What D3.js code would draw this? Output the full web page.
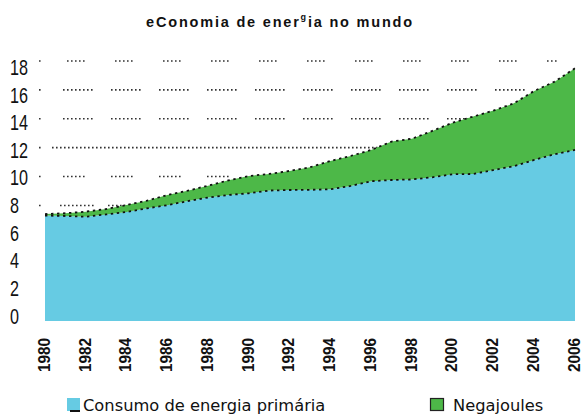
<!DOCTYPE html>
<html>
<head>
<meta charset="utf-8">
<script src="https://cdn.jsdelivr.net/npm/d3@7/dist/d3.min.js"></script>
<style>
  html, body { margin: 0; padding: 0; background: #fff; }
  svg { display: block; }
</style>
</head>
<body>
<svg id="chart" width="581" height="416"></svg>
<script>
// ── DATA ─────────────────────────────────────────────────────────────
const years = [1980,1981,1982,1983,1984,1985,1986,1987,1988,1989,1990,1991,1992,1993,
               1994,1995,1996,1997,1998,1999,2000,2001,2002,2003,2004,2005,2006];
const consumo = [7.30,7.27,7.22,7.38,7.55,7.80,8.02,8.30,8.55,8.72,8.84,9.03,9.07,9.08,
                 9.12,9.35,9.68,9.76,9.80,9.95,10.16,10.18,10.45,10.72,11.15,11.55,11.84];
const negajoules = [0.10,0.19,0.35,0.37,0.48,0.53,0.70,0.72,0.82,1.02,1.20,1.15,1.32,1.56,
                    1.96,2.08,2.16,2.66,2.82,3.21,3.57,3.97,4.12,4.35,4.78,5.02,5.66];
const xTicks = [1980,1982,1984,1986,1988,1990,1992,1994,1996,1998,2000,2002,2004,2006];
const yTicks = [0,2,4,6,8,10,12,14,16,18];
const gridTicks = [8,10,12,14,16,18];
const seriesNames = ['Consumo de energia primária', 'Negajoules'];

// grid line look: dots per group, offset of first group from line start
const gridDots  = { 8: 9, 10: 6, 12: 12, 14: 8, 16: 8, 18: 5 };
const gridFirst = { 8: 21, 10: 24, 12: 13, 14: 24, 16: 24, 18: 28 };

const colors = { consumo: '#66cbe3', negajoules: '#4db848' };

// ── SCALES ───────────────────────────────────────────────────────────
const svg = d3.select('#chart');

const x = d3.scaleLinear().domain([1980, 2006]).range([45, 575]);
const y = d3.scaleLinear().domain([0, 18]).range([321, 61]);
// the tick labels sit on a slightly tighter spacing than the grid
const yLab = d3.scaleLinear().domain([0, 18]).range([316, 67.5]);

const rows = years.map((yr, i) => ({ year: yr, consumo: consumo[i], negajoules: negajoules[i] }));
const stacked = d3.stack().keys(['consumo', 'negajoules'])(rows);

// ── TITLE ────────────────────────────────────────────────────────────
const title = svg.append('text')
  .attr('x', 280).attr('y', 27)
  .attr('text-anchor', 'middle')
  .attr('font-family', 'Liberation Sans, Arial, sans-serif')
  .attr('font-weight', 'bold')
  .attr('font-size', 14.5)
  .attr('letter-spacing', 1.8)
  .attr('fill', '#111');
title.append('tspan').text('eConomia de ener');
title.append('tspan').text('g').attr('font-size', 9).attr('dy', -7);
title.append('tspan').text('ia no mundo').attr('dy', 7);

// ── GRID ─────────────────────────────────────────────────────────────
const gx0 = x(1980) - 6, gx1 = x(2006) - 16;

function dashFor(v) {
  const dots = gridDots[v], first = gridFirst[v];
  const arr = [1.6, first - 1.6];
  let pos = first;
  while (pos < gx1 - gx0) {
    for (let i = 0; i < dots; i++) {
      arr.push(1.6, i < dots - 1 ? 2.4 : 48 - (dots - 1) * 4 - 1.6);
    }
    pos += 48;
  }
  return arr.join(' ');
}

svg.append('g').attr('class', 'grid')
  .selectAll('line')
  .data(gridTicks)
  .join('line')
  .attr('x1', gx0).attr('x2', gx1)
  .attr('y1', d => y(d)).attr('y2', d => y(d))
  .attr('stroke', '#333')
  .attr('stroke-width', 1.6)
  .attr('stroke-dasharray', d => dashFor(d));

// ── AREAS ────────────────────────────────────────────────────────────
const area = d3.area()
  .x(d => x(d.data.year))
  .y0(d => y(d[0]))
  .y1(d => y(d[1]));

svg.append('g').selectAll('path')
  .data(stacked)
  .join('path')
  .attr('fill', d => colors[d.key])
  .attr('d', area);

const edge = d3.line()
  .x(d => x(d.data.year))
  .y(d => y(d[1]));

svg.append('g').selectAll('path')
  .data(stacked)
  .join('path')
  .attr('fill', 'none')
  .attr('stroke', '#111')
  .attr('stroke-width', 1.8)
  .attr('stroke-dasharray', '2.4 3.6')
  .attr('d', edge);

// ── AXES ─────────────────────────────────────────────────────────────
const yAxis = svg.append('g')
  .attr('transform', 'translate(10,0)')
  .call(d3.axisRight(yLab).tickValues(yTicks).tickSize(0).tickPadding(0));
yAxis.select('.domain').remove();
yAxis.selectAll('text')
  .attr('font-family', 'Liberation Sans, Arial, sans-serif')
  .attr('font-size', 22)
  .attr('fill', '#111')
  .attr('textLength', d => String(d).length * 9)
  .attr('lengthAdjust', 'spacingAndGlyphs');

const xAxis = svg.append('g')
  .attr('transform', `translate(-1.5,${y(0)})`)
  .call(d3.axisBottom(x).tickValues(xTicks).tickFormat(d3.format('d')).tickSize(0));
xAxis.select('.domain').remove();
xAxis.selectAll('text')
  .attr('font-family', 'Liberation Sans, Arial, sans-serif')
  .attr('font-weight', 'bold')
  .attr('font-size', 16)
  .attr('fill', '#111')
  .attr('textLength', 34)
  .attr('lengthAdjust', 'spacingAndGlyphs')
  .attr('transform', 'rotate(-90)')
  .attr('text-anchor', 'end')
  .attr('x', -17).attr('y', 0).attr('dy', '0.36em');

// ── LEGEND ───────────────────────────────────────────────────────────
const legend = svg.append('g')
  .attr('font-family', 'DejaVu Sans, Tahoma, sans-serif')
  .attr('font-size', 16.3)
  .attr('fill', '#111');

const lg1 = legend.append('g').attr('transform', 'translate(67,398)');
lg1.append('rect').attr('width', 13).attr('height', 13).attr('fill', colors.consumo);
lg1.append('line').attr('x1', 3).attr('x2', 13).attr('y1', 13).attr('y2', 13)
  .attr('stroke', '#111').attr('stroke-width', 2);
lg1.append('text').attr('x', 16).attr('y', 13).text(seriesNames[0]);

const lg2 = legend.append('g').attr('transform', 'translate(430,398)');
lg2.append('rect').attr('x', 0.5).attr('y', 0.5).attr('width', 13).attr('height', 12)
  .attr('fill', colors.negajoules).attr('stroke', '#222').attr('stroke-width', 1.2);
lg2.append('text').attr('x', 23).attr('y', 13).text(seriesNames[1]);
</script>
</body>
</html>
